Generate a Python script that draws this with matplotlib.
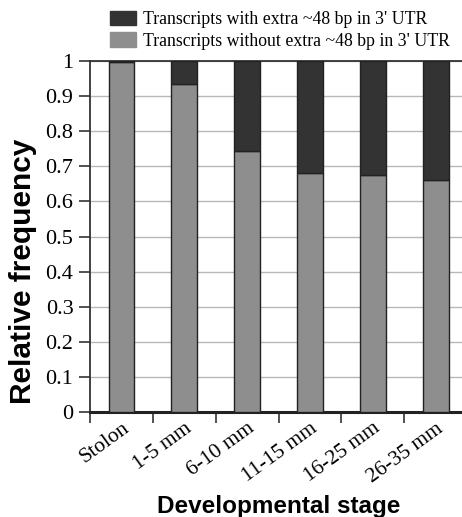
import numpy as np
import matplotlib
matplotlib.use("Agg")
import matplotlib.pyplot as plt
from matplotlib.patches import Patch

stages = ["Stolon", "1-5 mm", "6-10 mm", "11-15 mm", "16-25 mm", "26-35 mm"]
without_extra = [0.997, 0.934, 0.744, 0.681, 0.674, 0.661]
with_extra = [1 - v for v in without_extra]
yticks = [0, 0.1, 0.2, 0.3, 0.4, 0.5, 0.6, 0.7, 0.8, 0.9, 1]
ytick_labels = ["0", "0.1", "0.2", "0.3", "0.4", "0.5", "0.6", "0.7", "0.8", "0.9", "1"]

dark = "#333333"
grey = "#8e8e8e"
serif = "Liberation Serif"
sans = "Liberation Sans"

fig = plt.figure(figsize=(4.62, 5.17), dpi=100)
ax = fig.add_axes([0.195, 0.203, 0.816, 0.679])

x = np.arange(len(stages))
ax.bar(x, without_extra, width=0.41, color=grey, edgecolor="#222222", linewidth=1, zorder=3)
ax.bar(x, with_extra, width=0.41, bottom=without_extra, color=dark, edgecolor="#222222",
       linewidth=1, zorder=3)

ax.set_xlim(-0.5, 5.5)
ax.set_ylim(0, 1)
ax.set_yticks(yticks)
ax.set_yticklabels(ytick_labels, fontfamily=serif, fontsize=16)
ax.yaxis.grid(True, color="#b8b8b8", linewidth=1, zorder=0)

# ticks at the category boundaries, labels at bar centres
ax.set_xticks(np.arange(-0.5, 5.5, 1.0))
ax.set_xticklabels([])
ax.set_xticks(x, minor=True)
ax.set_xticklabels(stages, minor=True, rotation=36, ha="right", rotation_mode="anchor",
                   fontfamily=serif, fontsize=15.5)
ax.tick_params(axis="x", which="minor", length=0, pad=5)
ax.tick_params(axis="x", which="major", length=8, width=1.2, color="#333333")
ax.tick_params(axis="y", length=8, width=1.2, color="#333333", pad=4)

for s in ["left", "top", "right"]:
    ax.spines[s].set_color("#333333")
    ax.spines[s].set_linewidth(1.3)
ax.spines["bottom"].set_color("#222222")
ax.spines["bottom"].set_linewidth(2.2)

ax.set_ylabel("Relative frequency", fontfamily=sans, fontweight="bold", fontsize=21.5)
ax.yaxis.set_label_coords(-0.142, 0.40)
ax.set_xlabel("Developmental stage", fontfamily=sans, fontweight="bold", fontsize=17.5)
ax.xaxis.set_label_coords(0.5, -0.236)

handles = [Patch(facecolor=dark, edgecolor=dark), Patch(facecolor=grey, edgecolor=grey)]
fig.legend(handles, ["Transcripts with extra ~48 bp in 3' UTR",
                     "Transcripts without extra ~48 bp in 3' UTR"],
           loc="upper left", bbox_to_anchor=(0.215, 1.0), frameon=False,
           prop={"family": serif, "size": 12.8}, handlelength=1.45, handleheight=0.85,
           handletextpad=0.4, labelspacing=0.25, borderaxespad=0.2)

fig.savefig("out.png", dpi=100)
